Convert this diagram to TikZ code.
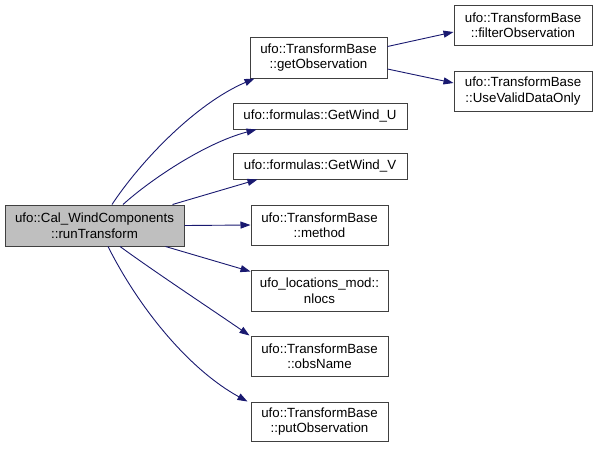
\documentclass[tikz,border=0pt]{standalone}
\usepackage{fontspec}
\setmainfont{Liberation Sans}
\usetikzlibrary{arrows.meta}
\definecolor{edgeblue}{HTML}{191970}
\definecolor{boxborder}{HTML}{404040}
\definecolor{mainfill}{HTML}{BFBFBF}
\begin{document}
\begin{tikzpicture}[x=1pt,y=-1pt,
  fn/.style={draw=boxborder, line width=1pt, fill=white, inner sep=0pt, align=center,
    font=\fontsize{13.3}{15.5}\selectfont, text=black},
  box2/.style={fn, minimum width=137pt, minimum height=40pt},
  wide/.style={fn, minimum width=174pt, minimum height=26pt},
  edge/.style={draw=edgeblue, line width=0.9pt, -{Triangle[length=10pt,width=7pt]}}]
\useasboundingbox (0,0) rectangle (597,448);
\node[fn, fill=mainfill, minimum width=179pt, minimum height=41pt] (main) at (94.5,225.5) {ufo::Cal\_WindComponents\\::runTransform};
\node[box2, minimum height=41pt] (getobs) at (318.5,57.5) {ufo::TransformBase\\::getObservation};
\node[box2, minimum width=138pt] (filter) at (523,25) {ufo::TransformBase\\::filterObservation};
\node[box2, minimum width=138pt] (usevalid) at (523,91) {ufo::TransformBase\\::UseValidDataOnly};
\node[wide] (gwu) at (320,116) {ufo::formulas::GetWind\_U};
\node[wide] (gwv) at (320,166) {ufo::formulas::GetWind\_V};
\node[box2] (method) at (319.5,225) {ufo::TransformBase\\::method};
\node[box2, minimum height=41pt] (nlocs) at (319.5,290.5) {ufo\_locations\_mod::\\nlocs};
\node[box2] (obsname) at (319.5,356) {ufo::TransformBase\\::obsName};
\node[box2, minimum height=39pt] (putobs) at (319.5,421.5) {ufo::TransformBase\\::putObservation};

\draw[edge] ([xshift=17.5pt]main.north) .. controls (140,162) and (195,104) .. ([xshift=5pt]getobs.south west);
\draw[edge] ([xshift=28.5pt]main.north) .. controls (150,180) and (205,143) .. ([xshift=24pt]gwu.south west);
\draw[edge] ([xshift=-12pt]main.north east) -- ([xshift=25pt]gwv.south west);
\draw[edge] (main.east) -- (method.west);
\draw[edge] ([xshift=-19pt]main.south east) -- ([yshift=-2pt]nlocs.north west);
\draw[edge] ([xshift=25.5pt]main.south) .. controls (155,272) and (205,305) .. ([xshift=-1pt]obsname.north west);
\draw[edge] ([xshift=13.5pt]main.south) .. controls (140,310) and (190,370) .. ([xshift=-3pt]putobs.north west);
\draw[edge] ([yshift=-10pt]getobs.north east) -- ([yshift=-7pt]filter.west);
\draw[edge] ([yshift=-11.5pt]getobs.east) -- ([yshift=8pt]usevalid.west);
\end{tikzpicture}
\end{document}
